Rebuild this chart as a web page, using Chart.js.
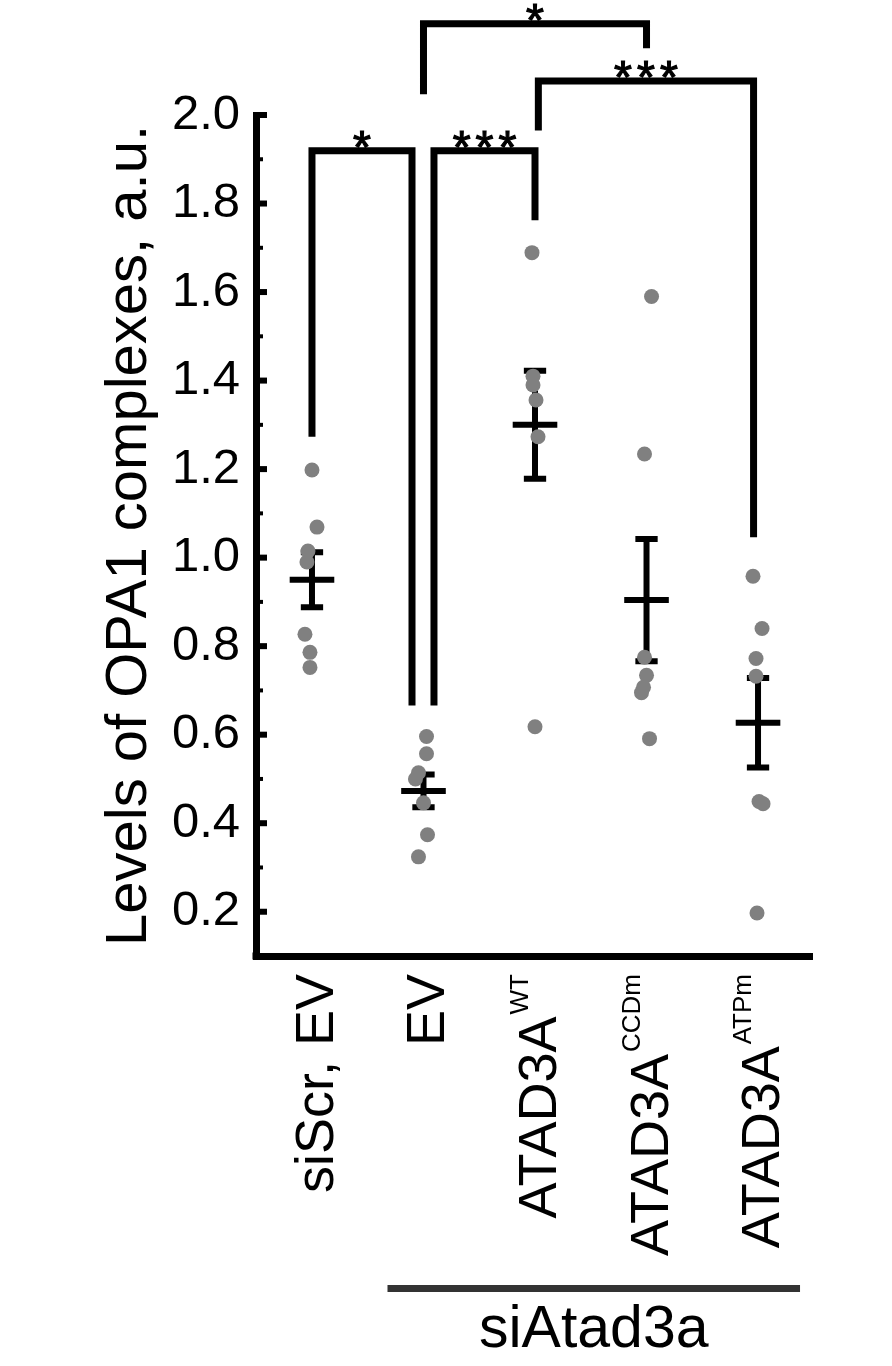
<!DOCTYPE html>
<html>
<head>
<meta charset="utf-8">
<script src="https://cdn.jsdelivr.net/npm/chart.js@4.4.1/dist/chart.umd.min.js"></script>
<style>
  html, body { margin: 0; padding: 0; background: #fff; }
  canvas { display: block; }
</style>
</head>
<body>
<canvas id="opaChart" width="892" height="1366"></canvas>
<script>
// groups on the x axis
const categories = ['siScr, EV', 'EV', 'ATAD3A', 'ATAD3A', 'ATAD3A'];
const superscripts = ['', '', 'WT', 'CCDm', 'ATPm'];
const groupLabel = 'siAtad3a';

// single measurements per group
const siScrEV = [1.198, 1.069, 1.015, 0.99, 0.827, 0.786, 0.752];
const siEV = [0.596, 0.557, 0.514, 0.50, 0.446, 0.374, 0.324];
const atadWT = [1.689, 1.41, 1.39, 1.356, 1.273, 0.618];
const atadCCDm = [1.59, 1.234, 0.775, 0.734, 0.707, 0.695, 0.591];
const atadATPm = [0.958, 0.84, 0.772, 0.732, 0.449, 0.444, 0.197];
const groupValues = [siScrEV, siEV, atadWT, atadCCDm, atadATPm];

// horizontal scatter of the dots inside each group (category units)
const siScrEVSpread = [0, 0.045, -0.036, -0.045, -0.063, -0.018, -0.018];
const siEVSpread = [0.027, 0.027, -0.045, -0.072, 0, 0.036, -0.045];
const atadWTSpread = [-0.027, -0.018, -0.018, 0.009, 0.027, 0];
const atadCCDmSpread = [0.045, -0.018, -0.018, 0, -0.027, -0.045, 0.027];
const atadATPmSpread = [-0.045, 0.036, -0.018, -0.018, 0.009, 0.045, -0.009];
const groupSpread = [siScrEVSpread, siEVSpread, atadWTSpread, atadCCDmSpread, atadATPmSpread];

// mean and SEM
const means = [0.95, 0.473, 1.30, 0.904, 0.627];
const sems = [0.062, 0.037, 0.122, 0.138, 0.101];

const yTicks = [0.2, 0.4, 0.6, 0.8, 1.0, 1.2, 1.4, 1.6, 1.8, 2.0];

// significance brackets
const bracketFrom = [1, 2.094, 2, 3.03];
const bracketTo = [1.897, 3, 4, 4.96];
const bracketTop = [1.919, 1.919, 2.206, 2.077];
const bracketLeftEnd = [1.273, 0.666, 2.047, 1.965];
const bracketRightEnd = [0.666, 1.762, 2.151, 1.046];
const bracketStars = ['*', '***', '*', '***'];

const FONT = '"Liberation Sans", Arial, Helvetica, sans-serif';

// build datasets
const dots = [];
groupValues.forEach((vals, i) => {
    vals.forEach((v, j) => {
        dots.push({ x: i + 1 + groupSpread[i][j], y: v });
    });
});

const errorBars = [];
means.forEach((m, i) => {
    const x = i + 1;
    const lo = m - sems[i];
    const hi = m + sems[i];
    errorBars.push(
        { x: x, y: lo }, { x: x, y: hi }, { x: x, y: null },
        { x: x - 0.1, y: hi }, { x: x + 0.1, y: hi }, { x: x, y: null },
        { x: x - 0.1, y: lo }, { x: x + 0.1, y: lo }, { x: x, y: null },
        { x: x - 0.2, y: m }, { x: x + 0.2, y: m }, { x: x, y: null }
    );
});

const brackets = [];
bracketFrom.forEach((x1, i) => {
    const x2 = bracketTo[i];
    brackets.push(
        { x: x1, y: bracketLeftEnd[i] },
        { x: x1, y: bracketTop[i] },
        { x: x2, y: bracketTop[i] },
        { x: x2, y: bracketRightEnd[i] },
        { x: x2, y: null }
    );
});

// ticks inside the axis, stars, x labels with superscripts
const annotations = {
    id: 'annotations',
    afterDraw(chart) {
        const { ctx, chartArea, scales: { x, y } } = chart;
        ctx.save();
        ctx.fillStyle = '#000';

        yTicks.forEach((v, i) => {
            const py = y.getPixelForValue(v);
            ctx.fillRect(chartArea.left, py - 3, 11, 6);
            if (i < yTicks.length - 1) {
                const pm = y.getPixelForValue(v + 0.1);
                ctx.fillRect(chartArea.left, pm - 2, 7, 4);
            }
        });
        ctx.fillRect(chartArea.left - 3.5, chartArea.bottom - 3.5, 7, 7);

        // stars: spaced out and slightly thickened
        ctx.font = '46px ' + FONT;
        ctx.letterSpacing = '5px';
        ctx.textAlign = 'center';
        ctx.textBaseline = 'alphabetic';
        ctx.strokeStyle = '#000';
        ctx.lineWidth = 1.2;
        bracketStars.forEach((s, i) => {
            const cx = (x.getPixelForValue(bracketFrom[i]) + x.getPixelForValue(bracketTo[i])) / 2;
            const by = y.getPixelForValue(bracketTop[i]) + 12;
            ctx.fillText(s, cx + 2.5, by);
            ctx.strokeText(s, cx + 2.5, by);
        });
        ctx.letterSpacing = '0px';

        const labelEnd = chartArea.bottom + 18;
        categories.forEach((label, i) => {
            const px = x.getPixelForValue(i + 1);
            ctx.save();
            ctx.translate(px, labelEnd);
            ctx.rotate(-Math.PI / 2);
            ctx.textAlign = 'right';
            let supW = 0;
            if (superscripts[i]) {
                ctx.font = '26px ' + FONT;
                supW = ctx.measureText(superscripts[i]).width + 2;
                ctx.fillText(superscripts[i], 0, -7);
            }
            ctx.font = '54px ' + FONT;
            ctx.fillText(label, -supW, 21);
            ctx.restore();
        });

        const gx1 = x.getPixelForValue(2) - 36;
        const gx2 = x.getPixelForValue(5) + 42;
        ctx.fillStyle = '#333';
        ctx.fillRect(gx1, chartArea.bottom + 329, gx2 - gx1, 7);
        ctx.fillStyle = '#000';
        ctx.font = '59px ' + FONT;
        ctx.textAlign = 'center';
        ctx.fillText(groupLabel, (gx1 + gx2) / 2, chartArea.bottom + 391);
        ctx.restore();
    }
};

const ctx = document.getElementById('opaChart').getContext('2d');
const opaChart = new Chart(ctx, {
    type: 'scatter',
    data: {
        datasets: [
            {
                label: 'values',
                data: dots,
                pointRadius: 7.5,
                pointBackgroundColor: '#808080',
                pointBorderWidth: 0,
                order: 0
            },
            {
                label: 'mean ± SEM',
                data: errorBars,
                showLine: true,
                borderColor: '#000',
                borderWidth: 6,
                borderCapStyle: 'butt',
                pointRadius: 0,
                order: 1
            },
            {
                label: 'significance',
                data: brackets,
                showLine: true,
                borderColor: '#000',
                borderWidth: 7,
                borderJoinStyle: 'miter',
                borderCapStyle: 'butt',
                pointRadius: 0,
                clip: false,
                order: 2
            }
        ]
    },
    options: {
        responsive: false,
        animation: false,
        devicePixelRatio: 1,
        events: [],
        layout: {
            padding: { top: 115, right: 80, left: 0, bottom: 0 }
        },
        plugins: {
            legend: { display: false },
            tooltip: { enabled: false }
        },
        scales: {
            x: {
                type: 'linear',
                min: 0.498,
                max: 5.484,
                grid: { display: false, drawTicks: false },
                border: { display: true, color: '#000', width: 7 },
                ticks: { display: false },
                afterFit: scale => { scale.height = 410; }
            },
            y: {
                min: 0.1,
                max: 2.0,
                grid: { display: false, drawTicks: false },
                border: { display: true, color: '#000', width: 7 },
                afterBuildTicks: scale => {
                    scale.ticks = yTicks.map(v => ({ value: v }));
                },
                afterFit: scale => { scale.width = 256; },
                ticks: {
                    padding: 16,
                    color: '#000',
                    font: { family: FONT, size: 49 },
                    callback: v => v.toFixed(1)
                },
                title: {
                    display: true,
                    text: 'Levels of OPA1 complexes, a.u.',
                    color: '#000',
                    font: { family: FONT, size: 58 },
                    padding: { top: 95, bottom: 0 }
                }
            }
        }
    },
    plugins: [annotations]
});
</script>
</body>
</html>
